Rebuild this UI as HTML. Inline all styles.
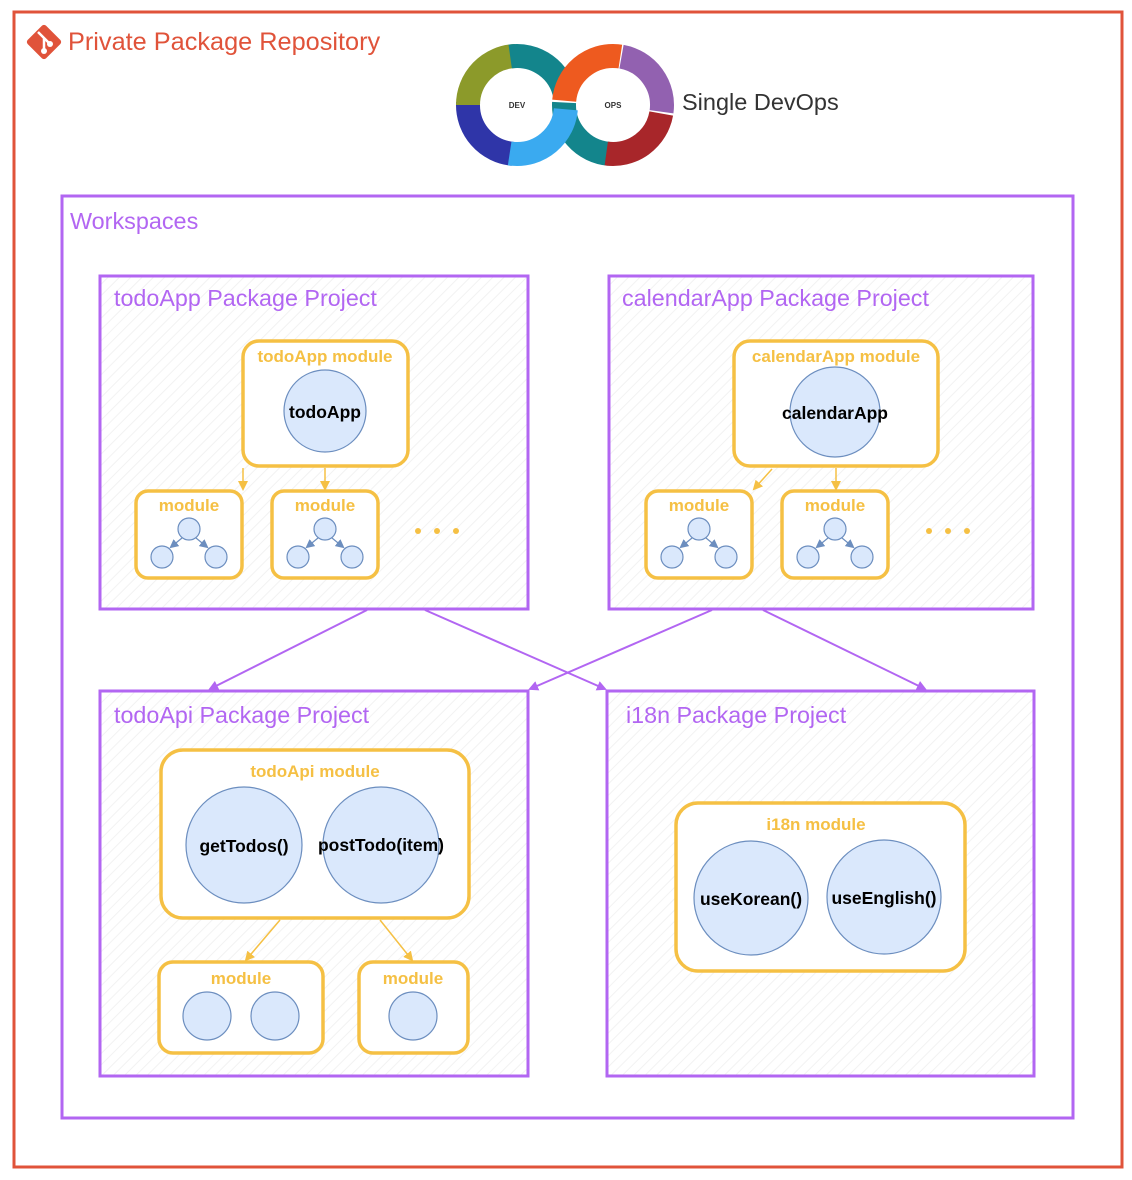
<!DOCTYPE html>
<html><head><meta charset="utf-8"><style>
html,body{margin:0;padding:0;background:#fff;}
svg{display:block;}
text{font-family:"Liberation Sans",sans-serif;}
</style></head><body>
<svg width="1132" height="1180" viewBox="0 0 1132 1180" xmlns="http://www.w3.org/2000/svg">
<defs>
<pattern id="hatch" width="8" height="8" patternUnits="userSpaceOnUse" patternTransform="rotate(45)">
<line x1="0" y1="0" x2="0" y2="8" stroke="#f2f2f2" stroke-width="2"/>
</pattern>
<marker id="pa" markerWidth="10" markerHeight="10" refX="8" refY="5" orient="auto" markerUnits="userSpaceOnUse"><path d="M0,0 L10,5 L0,10 z" fill="#b266f2"/></marker>
<marker id="ya" markerWidth="10" markerHeight="10" refX="8" refY="5" orient="auto" markerUnits="userSpaceOnUse"><path d="M0,0 L10,5 L0,10 z" fill="#f5c044"/></marker>
<marker id="ba" markerWidth="9" markerHeight="9" refX="7" refY="4.5" orient="auto" markerUnits="userSpaceOnUse"><path d="M0,0 L9,4.5 L0,9 z" fill="#6c8ebf"/></marker>
</defs>

<rect x="14" y="12" width="1108" height="1155" fill="none" stroke="#e0533a" stroke-width="3"/>
<rect x="31" y="29" width="26" height="26" rx="3" fill="#e0533a" transform="rotate(45 44 42)"/>
<path d="M38 32 L50 44 M44 38 L44 50" stroke="#fff" stroke-width="2.5" fill="none"/>
<circle cx="44" cy="51" r="3" fill="#fff"/><circle cx="50" cy="44" r="3" fill="#fff"/>
<text x="68" y="50" font-size="25.3" fill="#e0533a">Private Package Repository</text>

<g fill="none" stroke-width="24">
<circle cx="517" cy="105" r="49" stroke="#2f35a8" stroke-dasharray="75 233" transform="rotate(95 517 105)"/>
<circle cx="517" cy="105" r="49" stroke="#8c9a2a" stroke-dasharray="75 233" transform="rotate(180 517 105)"/>
<circle cx="517" cy="105" r="49" stroke="#13858c" stroke-dasharray="75 233" transform="rotate(262 517 105)"/>
<circle cx="613" cy="105" r="49" stroke="#13858c" stroke-dasharray="75 233" transform="rotate(95 613 105)"/>
<circle cx="613" cy="105" r="49" stroke="#a8262a" stroke-dasharray="75 233" transform="rotate(10 613 105)"/>
<circle cx="613" cy="105" r="49" stroke="#9261b0" stroke-dasharray="75 233" transform="rotate(280 613 105)"/>
<circle cx="613" cy="105" r="49" stroke="#ee5a1f" stroke-dasharray="80 228" transform="rotate(185 613 105)"/>
<circle cx="517" cy="105" r="49" stroke="#3aaaf0" stroke-dasharray="80 228" transform="rotate(5 517 105)"/>
</g>
<text x="517" y="108" font-size="8" font-weight="bold" text-anchor="middle" fill="#333">DEV</text>
<text x="613" y="108" font-size="8" font-weight="bold" text-anchor="middle" fill="#333">OPS</text>
<text x="682" y="110" font-size="23.5" fill="#333">Single DevOps</text>

<rect x="62" y="196" width="1011" height="922" fill="none" stroke="#b266f2" stroke-width="3"/>
<text x="70" y="229" font-size="23.4" fill="#b266f2">Workspaces</text>

<g stroke="#b266f2" stroke-width="3" fill="url(#hatch)">
<rect x="100" y="276" width="428" height="333"/>
<rect x="609" y="276" width="424" height="333"/>
<rect x="100" y="691" width="428" height="385"/>
<rect x="607" y="691" width="427" height="385"/>
</g>
<g font-size="23.3" fill="#b266f2">
<text x="114" y="306">todoApp Package Project</text>
<text x="622" y="306">calendarApp Package Project</text>
<text x="114" y="723">todoApi Package Project</text>
<text x="626" y="723">i18n Package Project</text>
</g>

<g stroke="#b266f2" stroke-width="2" fill="none" marker-end="url(#pa)">
<line x1="367" y1="610" x2="210" y2="689"/>
<line x1="425" y1="610" x2="605" y2="689"/>
<line x1="712" y1="610" x2="530" y2="689"/>
<line x1="763" y1="610" x2="925" y2="689"/>
</g>

<g stroke="#f5c044" stroke-width="3.5" fill="#fff">
<rect x="243" y="341" width="165" height="125" rx="16"/>
<rect x="136" y="491" width="106" height="87" rx="12"/>
<rect x="272" y="491" width="106" height="87" rx="12"/>
<rect x="734" y="341" width="204" height="125" rx="16"/>
<rect x="646" y="491" width="106" height="87" rx="12"/>
<rect x="782" y="491" width="106" height="87" rx="12"/>
<rect x="161" y="750" width="308" height="168" rx="22"/>
<rect x="159" y="962" width="164" height="91" rx="14"/>
<rect x="359" y="962" width="109" height="91" rx="14"/>
<rect x="676" y="803" width="289" height="168" rx="22"/>
</g>
<g font-size="17" font-weight="bold" fill="#f5c044" text-anchor="middle">
<text x="325" y="362">todoApp module</text>
<text x="189" y="511">module</text>
<text x="325" y="511">module</text>
<text x="836" y="362">calendarApp module</text>
<text x="699" y="511">module</text>
<text x="835" y="511">module</text>
<text x="315" y="777">todoApi module</text>
<text x="241" y="984">module</text>
<text x="413" y="984">module</text>
<text x="816" y="830">i18n module</text>
</g>
<g fill="#f5c044">
<circle cx="418" cy="531" r="3"/><circle cx="437" cy="531" r="3"/><circle cx="456" cy="531" r="3"/>
<circle cx="929" cy="531" r="3"/><circle cx="948" cy="531" r="3"/><circle cx="967" cy="531" r="3"/>
</g>
<g stroke="#f5c044" stroke-width="1.5" marker-end="url(#ya)">
<line x1="243" y1="468" x2="243" y2="489"/>
<line x1="325" y1="468" x2="325" y2="489"/>
<line x1="772" y1="469" x2="754" y2="489"/>
<line x1="836" y1="468" x2="836" y2="489"/>
<line x1="280" y1="920" x2="246" y2="960"/>
<line x1="380" y1="920" x2="412" y2="960"/>
</g>

<g fill="#dae8fc" stroke="#6c8ebf" stroke-width="1.2">
<circle cx="325" cy="411" r="41"/>
<circle cx="835" cy="412" r="45"/>
<circle cx="244" cy="845" r="58"/>
<circle cx="381" cy="845" r="58"/>
<circle cx="751" cy="898" r="57"/>
<circle cx="884" cy="897" r="57"/>
<circle cx="207" cy="1016" r="24"/>
<circle cx="275" cy="1016" r="24"/>
<circle cx="413" cy="1016" r="24"/>
<circle cx="189" cy="529" r="11"/><circle cx="162" cy="557" r="11"/><circle cx="216" cy="557" r="11"/>
<circle cx="325" cy="529" r="11"/><circle cx="298" cy="557" r="11"/><circle cx="352" cy="557" r="11"/>
<circle cx="699" cy="529" r="11"/><circle cx="672" cy="557" r="11"/><circle cx="726" cy="557" r="11"/>
<circle cx="835" cy="529" r="11"/><circle cx="808" cy="557" r="11"/><circle cx="862" cy="557" r="11"/>
</g>
<g stroke="#6c8ebf" stroke-width="1.2" marker-end="url(#ba)">
<line x1="182" y1="538" x2="171" y2="547"/><line x1="196" y1="538" x2="207" y2="547"/>
<line x1="318" y1="538" x2="307" y2="547"/><line x1="332" y1="538" x2="343" y2="547"/>
<line x1="692" y1="538" x2="681" y2="547"/><line x1="706" y1="538" x2="717" y2="547"/>
<line x1="828" y1="538" x2="817" y2="547"/><line x1="842" y1="538" x2="853" y2="547"/>
</g>
<g font-size="17.5" font-weight="bold" fill="#000" text-anchor="middle">
<text x="325" y="418">todoApp</text>
<text x="835" y="419">calendarApp</text>
<text x="244" y="852">getTodos()</text>
<text x="381" y="851">postTodo(item)</text>
<text x="751" y="905">useKorean()</text>
<text x="884" y="904">useEnglish()</text>
</g>
</svg>
</body></html>
